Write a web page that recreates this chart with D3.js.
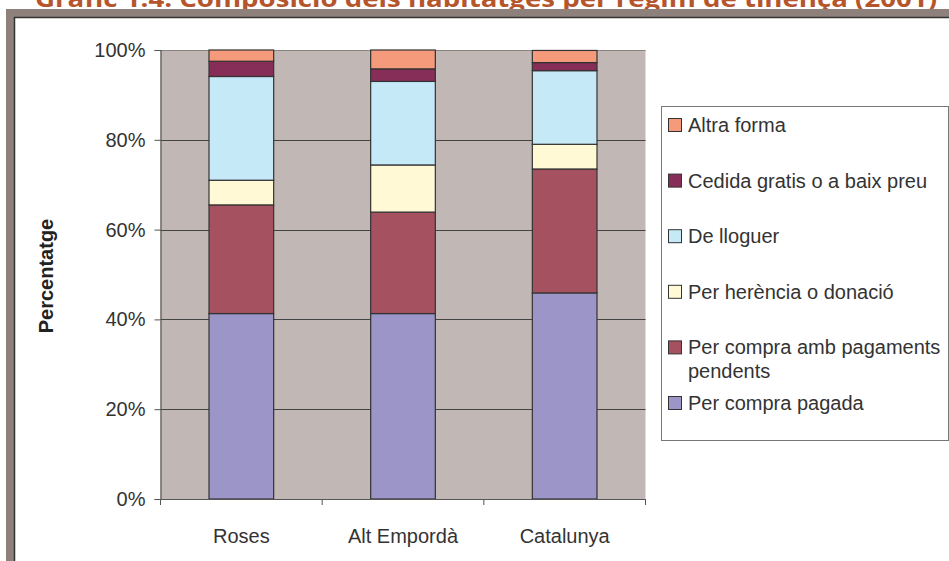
<!DOCTYPE html>
<html>
<head>
<meta charset="utf-8">
<script src="https://cdn.jsdelivr.net/npm/d3@7"></script>
<style>
  body { margin: 0; background: #fff; }
  svg { display: block; }
</style>
</head>
<body>
<div id="chart"></div>
<script>
// data (percent)
const categories = ["Roses", "Alt Empordà", "Catalunya"];
const seriesNames = ["Per compra pagada", "Per compra amb pagaments pendents", "Per herència o donació",
                     "De lloguer", "Cedida gratis o a baix preu", "Altra forma"];
const pagada    = [41.3, 41.3, 45.9];
const pendents  = [24.2, 22.6, 27.6];
const herencia  = [5.5, 10.5, 5.5];
const lloguer   = [23.1, 18.6, 16.4];
const cedida    = [3.4, 2.8, 1.8];
const altra     = [2.5, 4.2, 2.7];
const yTicks = [0, 20, 40, 60, 80, 100];
const titleText = "Gràfic 1.4. Composició dels habitatges per règim de tinença (2001)";

const colors = ["#9b95c8", "#a5515f", "#fff9d6", "#c6e9f8", "#862e57", "#f59a7b"];

let w = 949, h = 561;
let plotLeft = 160.5, plotRight = 645.5, plotTop = 50, plotBottom = 499;

const svg = d3.select("#chart").append("svg")
  .attr("width", w)
  .attr("height", h);

// title, partly cut off at the top
svg.append("text")
  .attr("x", 35)
  .attr("y", 7)
  .attr("textLength", 902)
  .attr("lengthAdjust", "spacingAndGlyphs")
  .style("font-family", "'Open Sans', sans-serif")
  .style("font-weight", "bold")
  .style("font-size", "23px")
  .style("fill", "#b5552c")
  .text(titleText);

// frame around the chart
svg.append("rect").attr("x", 6).attr("y", 9).attr("width", w - 6).attr("height", 8).attr("fill", "#8e807b");
svg.append("rect").attr("x", 6).attr("y", 9).attr("width", 8).attr("height", h - 9).attr("fill", "#8e807b");
svg.append("line").attr("x1", 14).attr("x2", w).attr("y1", 17.5).attr("y2", 17.5).attr("stroke", "#333").attr("stroke-width", 1.5);
svg.append("line").attr("x1", 14.5).attr("x2", 14.5).attr("y1", 17).attr("y2", h).attr("stroke", "#333").attr("stroke-width", 1.5);

const x = d3.scaleBand().domain(categories).range([plotLeft, plotRight]);
const y = d3.scaleLinear().domain([0, 100]).range([plotBottom, plotTop]);

// plot background
svg.append("rect")
  .attr("x", plotLeft).attr("y", plotTop)
  .attr("width", plotRight - plotLeft).attr("height", plotBottom - plotTop)
  .attr("fill", "#c1b8b5");

// gridlines
svg.append("g")
  .selectAll("line")
  .data(yTicks.filter(d => d > 0))
  .join("line")
  .attr("x1", plotLeft).attr("x2", plotRight)
  .attr("y1", d => Math.round(y(d)) + 0.5)
  .attr("y2", d => Math.round(y(d)) + 0.5)
  .attr("stroke", d => d == 100 ? "#8a8380" : "#444")
  .attr("stroke-width", 1);

// stacked bars
const rows = categories.map((c, i) => ({
  cat: c,
  s0: pagada[i], s1: pendents[i], s2: herencia[i], s3: lloguer[i], s4: cedida[i], s5: altra[i]
}));
const stack = d3.stack().keys(["s0", "s1", "s2", "s3", "s4", "s5"]);
const layers = stack(rows);

const barW = x.bandwidth() * 0.4;

svg.append("g")
  .selectAll("g")
  .data(layers)
  .join("g")
  .attr("fill", (d, i) => colors[i])
  .selectAll("rect")
  .data(d => d)
  .join("rect")
  .attr("x", d => x(d.data.cat) + (x.bandwidth() - barW) / 2)
  .attr("y", d => y(d[1]))
  .attr("width", barW)
  .attr("height", d => y(d[0]) - y(d[1]))
  .attr("stroke", "#333")
  .attr("stroke-width", 1.2);

// axes
const yAxis = d3.axisLeft(y)
  .tickValues(yTicks)
  .tickFormat(d => d + "%")
  .tickSize(6)
  .tickPadding(9);

const yg = svg.append("g")
  .attr("transform", `translate(${plotLeft}, 0)`)
  .call(yAxis);

const xAxis = d3.axisBottom(x).tickSize(0).tickPadding(30);
const xg = svg.append("g")
  .attr("transform", `translate(0, ${plotBottom})`)
  .call(xAxis);

// tick marks between categories
svg.append("g")
  .selectAll("line")
  .data(categories.map(c => x(c)).concat([plotRight]))
  .join("line")
  .attr("x1", d => d).attr("x2", d => d)
  .attr("y1", plotBottom).attr("y2", plotBottom + 6)
  .attr("stroke", "#555");

[yg, xg].forEach(g => {
  g.select(".domain").attr("stroke", "#555").attr("stroke-width", 1.2);
  g.selectAll(".tick line").attr("stroke", "#555");
  g.selectAll("text")
    .style("font-family", "'Liberation Sans', Arial, sans-serif")
    .style("font-size", "20px")
    .attr("fill", "#333");
});

// y title
svg.append("text")
  .attr("transform", "translate(53, 276) rotate(-90)")
  .attr("text-anchor", "middle")
  .style("font-family", "'Liberation Sans', Arial, sans-serif")
  .style("font-weight", "bold")
  .style("font-size", "20px")
  .attr("fill", "#222")
  .text("Percentatge");

// legend
svg.append("rect")
  .attr("x", 661.5).attr("y", 106.5)
  .attr("width", 287).attr("height", 334)
  .attr("fill", "#fff")
  .attr("stroke", "#777");

const legendOrder = [5, 4, 3, 2, 1, 0];
const lg = svg.append("g")
  .selectAll("g")
  .data(legendOrder)
  .join("g")
  .attr("transform", (d, i) => `translate(668, ${125 + i * 55.6})`);

lg.append("rect")
  .attr("x", 0.5).attr("y", -6.5)
  .attr("width", 13).attr("height", 13)
  .attr("fill", d => colors[d])
  .attr("stroke", "#333");

lg.append("text")
  .attr("x", 20)
  .attr("dy", "0.35em")
  .style("font-family", "'Liberation Sans', Arial, sans-serif")
  .style("font-size", "20px")
  .attr("fill", "#333")
  .each(function(d) {
    // simple word wrap to the legend width
    const el = d3.select(this);
    const words = seriesNames[d].split(" ");
    let line = [];
    let tspan = el.append("tspan").attr("x", 20);
    words.forEach(word => {
      line.push(word);
      tspan.text(line.join(" "));
      if (tspan.node().getComputedTextLength() > 258 && line.length > 1) {
        line.pop();
        tspan.text(line.join(" "));
        line = [word];
        tspan = el.append("tspan").attr("x", 20).attr("dy", "1.2em").text(word);
      }
    });
  });
</script>
</body>
</html>
